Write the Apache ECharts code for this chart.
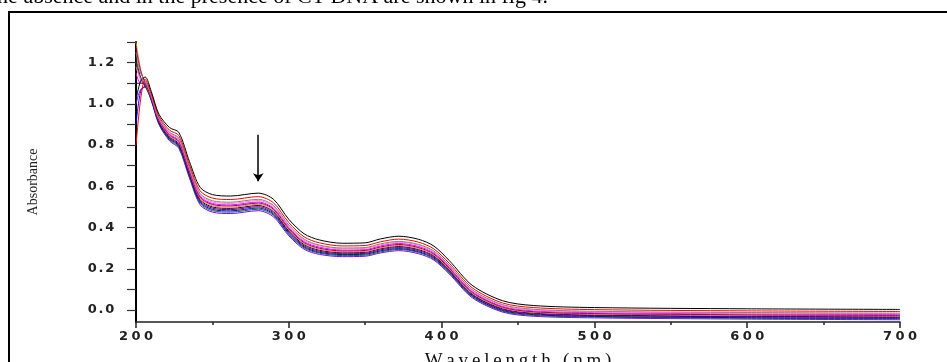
<!DOCTYPE html>
<html>
<head>
<meta charset="utf-8">
<script src="https://cdn.jsdelivr.net/npm/echarts@6/dist/echarts.min.js"></script>
<style>
  html, body { margin: 0; padding: 0; background: #fff; }
  #chart { width: 947px; height: 362px; }
</style>
</head>
<body>
<div id="chart"></div>
<script>
// wavelength (nm) shared by every spectrum
const wavelengths = [200, 203, 206, 210, 215, 222, 228, 235, 242, 250, 262, 280, 290, 300, 310, 320, 335, 350, 360, 372, 385, 395, 405, 420, 440, 460, 500, 600, 700];

// absorbance of each titration step
const abs1 = [1.02, 1.11, 1.13, 1.06, 0.95, 0.885, 0.862, 0.72, 0.595, 0.56, 0.553, 0.567, 0.537, 0.44, 0.37, 0.34, 0.324, 0.326, 0.345, 0.358, 0.343, 0.31, 0.24, 0.12, 0.045, 0.022, 0.012, 0.006, 0.003];
const abs2 = [0.80, 1.02, 1.12, 1.051, 0.94, 0.872, 0.847, 0.704, 0.578, 0.543, 0.536, 0.55, 0.52, 0.424, 0.355, 0.326, 0.311, 0.313, 0.331, 0.344, 0.329, 0.296, 0.227, 0.108, 0.034, 0.012, 0.002, -0.004, -0.007];
const abs3 = [1.25, 1.15, 1.112, 1.044, 0.932, 0.862, 0.835, 0.692, 0.565, 0.53, 0.523, 0.537, 0.507, 0.412, 0.344, 0.315, 0.301, 0.303, 0.321, 0.333, 0.318, 0.286, 0.217, 0.099, 0.026, 0.004, -0.006, -0.012, -0.015];
const abs4 = [1.18, 1.12, 1.109, 1.041, 0.929, 0.858, 0.83, 0.686, 0.559, 0.524, 0.517, 0.531, 0.501, 0.406, 0.338, 0.311, 0.297, 0.299, 0.316, 0.329, 0.314, 0.281, 0.213, 0.095, 0.022, 0.0, -0.009, -0.015, -0.018];
const abs5 = [1.15, 1.10, 1.105, 1.037, 0.925, 0.852, 0.823, 0.68, 0.552, 0.517, 0.51, 0.524, 0.494, 0.40, 0.332, 0.305, 0.291, 0.293, 0.311, 0.323, 0.308, 0.276, 0.207, 0.09, 0.017, -0.004, -0.013, -0.019, -0.022];
const abs6 = [1.27, 1.16, 1.101, 1.034, 0.921, 0.848, 0.818, 0.674, 0.547, 0.512, 0.505, 0.519, 0.489, 0.394, 0.327, 0.30, 0.287, 0.289, 0.306, 0.318, 0.303, 0.271, 0.203, 0.086, 0.014, -0.008, -0.017, -0.023, -0.026];
const abs7 = [1.30, 1.17, 1.098, 1.031, 0.918, 0.843, 0.813, 0.669, 0.541, 0.506, 0.499, 0.513, 0.483, 0.389, 0.322, 0.295, 0.282, 0.284, 0.301, 0.313, 0.298, 0.266, 0.198, 0.082, 0.01, -0.011, -0.02, -0.026, -0.029];
const abs8 = [1.10, 1.10, 1.094, 1.028, 0.914, 0.839, 0.807, 0.663, 0.535, 0.50, 0.493, 0.507, 0.477, 0.383, 0.317, 0.29, 0.278, 0.28, 0.297, 0.308, 0.293, 0.262, 0.194, 0.077, 0.006, -0.015, -0.024, -0.03, -0.033];
const abs9 = [1.22, 1.13, 1.091, 1.025, 0.911, 0.834, 0.802, 0.658, 0.529, 0.494, 0.487, 0.501, 0.471, 0.378, 0.311, 0.285, 0.273, 0.275, 0.292, 0.303, 0.288, 0.257, 0.189, 0.073, 0.002, -0.019, -0.027, -0.033, -0.036];
const abs10 = [0.90, 1.06, 1.087, 1.022, 0.907, 0.83, 0.797, 0.652, 0.523, 0.488, 0.481, 0.495, 0.465, 0.372, 0.306, 0.28, 0.269, 0.271, 0.287, 0.298, 0.283, 0.252, 0.185, 0.069, -0.002, -0.022, -0.031, -0.037, -0.04];
const abs11 = [1.20, 1.12, 1.084, 1.019, 0.904, 0.825, 0.791, 0.646, 0.517, 0.482, 0.475, 0.489, 0.459, 0.366, 0.301, 0.276, 0.264, 0.266, 0.282, 0.294, 0.279, 0.247, 0.18, 0.065, -0.006, -0.026, -0.034, -0.04, -0.043];
const abs12 = [1.00, 1.07, 1.08, 1.015, 0.90, 0.82, 0.785, 0.64, 0.51, 0.475, 0.468, 0.482, 0.452, 0.36, 0.295, 0.27, 0.259, 0.261, 0.277, 0.288, 0.273, 0.242, 0.175, 0.06, -0.01, -0.03, -0.038, -0.044, -0.047];

const spectra = [abs12, abs11, abs10, abs9, abs8, abs7, abs6, abs5, abs4, abs3, abs2, abs1];
const lineColors = ["#8000ff", "#008000", "#0000ff", "#800040", "#000080", "#ff8000", "#800080", "#ff00ff", "#ff80c0", "#808080", "#ff0000", "#000000"];

// axis ticks / labels
const yLabelValues = [0, 0.2, 0.4, 0.6, 0.8, 1.0, 1.2];
const yTickValues = [0, 0.1, 0.2, 0.3, 0.4, 0.5, 0.6, 0.7, 0.8, 0.9, 1.0, 1.1, 1.2, 1.3];
const arrowFrom = [280, 0.85];
const arrowTo = [280, 0.625];

const chart = echarts.init(document.getElementById("chart"));

// wide-looking tick labels: each character gets its own box
const labelRich = {
  n: { width: 12.5, align: "center", fontSize: 13, fontWeight: "bold", fontFamily: "DejaVu Sans", color: "#222" },
  d: { width: 5, align: "center", fontSize: 13, fontWeight: "bold", fontFamily: "DejaVu Sans", color: "#222" }
};
function spread(text) {
  return text.split("").map(c => (c === "." ? "{d|.}" : "{n|" + c + "}")).join("");
}

let series = spectra.map((vals, i) => ({
  type: "line",
  name: "s" + (i + 1),
  data: wavelengths.map((w, k) => [w, vals[k]]),
  showSymbol: false,
  smooth: 0.3,
  lineStyle: { width: 1, color: lineColors[i] },
  itemStyle: { color: lineColors[i] },
  z: 2 + i
}));

series[series.length - 1].markLine = {
  silent: true,
  symbol: ["none", "arrow"],
  symbolSize: 8,
  label: { show: false },
  lineStyle: { color: "#000", width: 1.5, type: "solid" },
  data: [[{ coord: arrowFrom }, { coord: arrowTo }]]
};

chart.setOption({
  animation: false,
  backgroundColor: "#fff",
  grid: { left: 136, right: 47, top: 42, bottom: 40, outerBoundsMode: "none" },
  graphic: [
    {
      type: "text",
      x: -9,
      y: -3,
      silent: true,
      style: {
        text: "the absence and in the presence of CT-DNA are shown in fig 4.",
        font: '22px "Liberation Serif"',
        fill: "#000",
        verticalAlign: "middle"
      }
    },
    {
      type: "rect",
      silent: true,
      shape: { x: 9, y: 12, width: 1000, height: 400 },
      style: { fill: "none", stroke: "#000", lineWidth: 2 }
    }
  ],
  xAxis: {
    type: "value",
    min: 200,
    max: 700,
    interval: 100,
    name: "W\u2009a\u2009v\u2009e\u2009l\u2009e\u2009n\u2009g\u2009t\u2009h\u2009 \u2009(\u2009n\u2009m\u2009)",
    nameLocation: "middle",
    nameGap: 30,
    nameTextStyle: { fontFamily: "Liberation Serif", fontSize: 19, color: "#111" },
    axisLine: { onZero: false, lineStyle: { color: "#222", width: 1.5 } },
    axisTick: { length: 6, lineStyle: { color: "#222", width: 1.5 } },
    minorTick: { show: true, splitNumber: 2, length: 3, lineStyle: { color: "#222", width: 1.5 } },
    splitLine: { show: false },
    axisLabel: {
      margin: 8,
      formatter: v => spread(String(v)),
      rich: labelRich
    }
  },
  yAxis: {
    type: "value",
    min: -0.058,
    max: 1.3,
    name: "Absorbance",
    nameLocation: "middle",
    nameGap: 96,
    nameTextStyle: { fontFamily: "Liberation Serif", fontSize: 14, color: "#222" },
    axisLine: { show: true, onZero: false, lineStyle: { color: "#000", width: 2 } },
    axisTick: { show: true, customValues: yTickValues, length: 9, lineStyle: { color: "#333", width: 1.2 } },
    splitLine: { show: false },
    axisLabel: {
      customValues: yLabelValues,
      margin: 20,
      formatter: v => spread(Number(v).toFixed(1)),
      rich: labelRich
    }
  },
  series: series
});
</script>
</body>
</html>
